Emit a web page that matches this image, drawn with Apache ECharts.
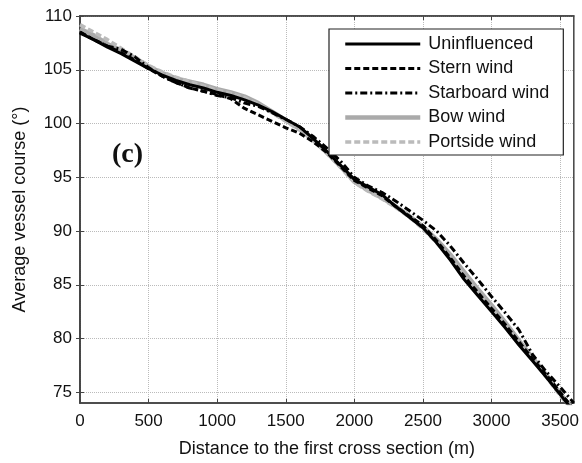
<!DOCTYPE html>
<html>
<head>
<meta charset="utf-8">
<script src="https://cdn.jsdelivr.net/npm/echarts@6/dist/echarts.min.js"></script>
<style>
  html, body { margin: 0; padding: 0; background: #fff; }
  #chart { width: 582px; height: 463px; }
</style>
</head>
<body>
<div id="chart"></div>
<script>
// distance along the channel (m)
const distance = [0, 100, 200, 300, 400, 500, 600, 700, 800, 900, 1000, 1100, 1200, 1300, 1400, 1500, 1600, 1700, 1800,
  1900, 2000, 2100, 2200, 2300, 2400, 2500, 2600, 2700, 2800, 2900, 3000, 3100, 3200, 3300, 3400, 3500, 3600];

// average vessel course (deg) per case
const uninfluenced = [108.4, 107.8, 107.1, 106.5, 105.8, 105.1, 104.5, 104.0, 103.6, 103.3, 102.9, 102.6, 102.2, 101.7, 101.1,
  100.4, 99.7, 98.6, 97.4, 96.1, 94.8, 94.1, 93.4, 92.3, 91.3, 90.3, 88.9, 87.3, 85.5, 84.0, 82.5, 81.0, 79.4, 77.9, 76.4, 74.8, 73.2];
const sternWind = [108.5, 107.8, 107.2, 106.6, 105.9, 105.1, 104.4, 103.8, 103.3, 103.0, 102.7, 102.3, 101.4, 100.8, 100.2,
  99.6, 99.1, 98.3, 97.3, 96.0, 94.7, 94.0, 93.3, 92.3, 91.4, 90.5, 89.1, 87.5, 85.8, 84.3, 82.8, 81.3, 79.7, 78.1, 76.6, 75.0, 73.4];
const starboardWind = [108.5, 107.8, 107.2, 106.9, 106.2, 105.2, 104.4, 103.8, 103.3, 103.0, 102.6, 102.4, 101.9, 101.6, 101.0,
  100.4, 99.7, 98.8, 97.7, 96.5, 95.0, 94.2, 93.6, 92.8, 91.9, 91.0, 90.0, 88.6, 87.0, 85.5, 83.9, 82.4, 80.8, 78.5, 76.9, 75.5, 74.0];
const bowWind = [108.8, 108.2, 107.4, 106.8, 106.1, 105.3, 104.7, 104.2, 103.9, 103.6, 103.2, 102.9, 102.5, 101.9, 101.1,
  100.3, 99.5, 98.5, 97.3, 96.0, 94.6, 93.8, 93.1, 92.3, 91.4, 90.4, 89.2, 87.8, 86.2, 84.6, 83.1, 81.5, 79.8, 78.2, 76.6, 74.9, 73.3];
const portsideWind = [109.2, 108.5, 107.8, 107.0, 106.2, 105.4, 104.8, 104.3, 103.9, 103.5, 103.1, 102.8, 102.4, 101.8, 101.0,
  100.2, 99.4, 98.4, 97.2, 95.9, 94.5, 93.7, 93.0, 92.2, 91.3, 90.2, 88.9, 87.5, 85.9, 84.3, 82.8, 81.2, 79.6, 78.0, 76.4, 74.7, 73.1];

const xTicks = [0, 500, 1000, 1500, 2000, 2500, 3000, 3500];
const yTicks = [75, 80, 85, 90, 95, 100, 105, 110];

const pairs = (ys) => distance.map((d, i) => [d, ys[i]]);

const font = 'Liberation Sans, Arial, sans-serif';

const baseX = {
  type: 'value', min: 0, max: 3600,
  axisLine: { show: true, lineStyle: { color: '#444', width: 1.5 } },
  axisTick: { show: true, inside: true, length: 4, customValues: xTicks, lineStyle: { color: '#444' } },
  axisLabel: { customValues: xTicks, formatter: v => String(v), color: '#111', fontSize: 17, fontFamily: font, margin: 10 },
  splitLine: { show: false }
};
const baseY = {
  type: 'value', min: 74, max: 110,
  axisLine: { show: true, lineStyle: { color: '#444', width: 1.5 } },
  axisTick: { show: true, inside: true, length: 4, customValues: yTicks, lineStyle: { color: '#444' } },
  axisLabel: { customValues: yTicks, formatter: v => String(v), color: '#111', fontSize: 17, fontFamily: font, margin: 8 },
  splitLine: { show: false }
};

const chart = echarts.init(document.getElementById('chart'));
chart.setOption({
  animation: false,
  grid: { left: 80, top: 16, right: 5, bottom: 60, show: true, borderColor: '#444', borderWidth: 1.5 },
  xAxis: [
    Object.assign({}, baseX, {
      position: 'bottom',
      name: 'Distance to the first cross section (m)',
      nameLocation: 'middle', nameGap: 37,
      nameTextStyle: { color: '#111', fontSize: 18, fontFamily: font },
      splitLine: { show: true, lineStyle: { color: '#bbb', type: 'dotted', width: 1 } }
    }),
    Object.assign({}, baseX, { position: 'top', axisLabel: { show: false } })
  ],
  yAxis: [
    Object.assign({}, baseY, {
      position: 'left',
      name: 'Average vessel course (°)',
      nameLocation: 'middle', nameGap: 51,
      nameTextStyle: { color: '#111', fontSize: 18, fontFamily: font },
      splitLine: { show: true, lineStyle: { color: '#bbb', type: 'dotted', width: 1 } }
    }),
    Object.assign({}, baseY, { position: 'right', axisLabel: { show: false } })
  ],
  legend: {
    orient: 'vertical',
    left: 329, top: 29,
    padding: [6, 14, 4, 14],
    itemWidth: 75, itemHeight: 14, itemGap: 6.5,
    backgroundColor: '#fff',
    borderColor: '#222', borderWidth: 1.2,
    itemStyle: { opacity: 0 },
    lineStyle: { width: 'inherit' },
    textStyle: { color: '#111', fontSize: 18, fontFamily: font, padding: [0, 0, 0, 3] },
    data: ['Uninfluenced', 'Stern wind', 'Starboard wind', 'Bow wind', 'Portside wind']
  },
  graphic: [{
    type: 'text', left: 112, top: 141,
    style: { text: '(c)', font: 'bold 28px "Liberation Serif", serif', fill: '#111' }
  }],
  series: [
    {
      name: 'Bow wind', type: 'line', data: pairs(bowWind), symbol: 'none', z: 1,
      lineStyle: { color: '#aaa', width: 4.5 }, itemStyle: { color: '#aaa' }
    },
    {
      name: 'Portside wind', type: 'line', data: pairs(portsideWind), symbol: 'none', z: 1,
      lineStyle: { color: '#bbb', width: 3.5, type: [6, 3] }, itemStyle: { color: '#bbb' }
    },
    {
      name: 'Uninfluenced', type: 'line', data: pairs(uninfluenced), symbol: 'none', z: 3,
      lineStyle: { color: '#000', width: 3 }, itemStyle: { color: '#000' }
    },
    {
      name: 'Stern wind', type: 'line', data: pairs(sternWind), symbol: 'none', z: 3,
      lineStyle: { color: '#000', width: 3, type: [6, 3] }, itemStyle: { color: '#000' }
    },
    {
      name: 'Starboard wind', type: 'line', data: pairs(starboardWind), symbol: 'none', z: 3,
      lineStyle: { color: '#000', width: 3, type: [7, 3, 2, 3] }, itemStyle: { color: '#000' }
    }
  ]
});
</script>
</body>
</html>
